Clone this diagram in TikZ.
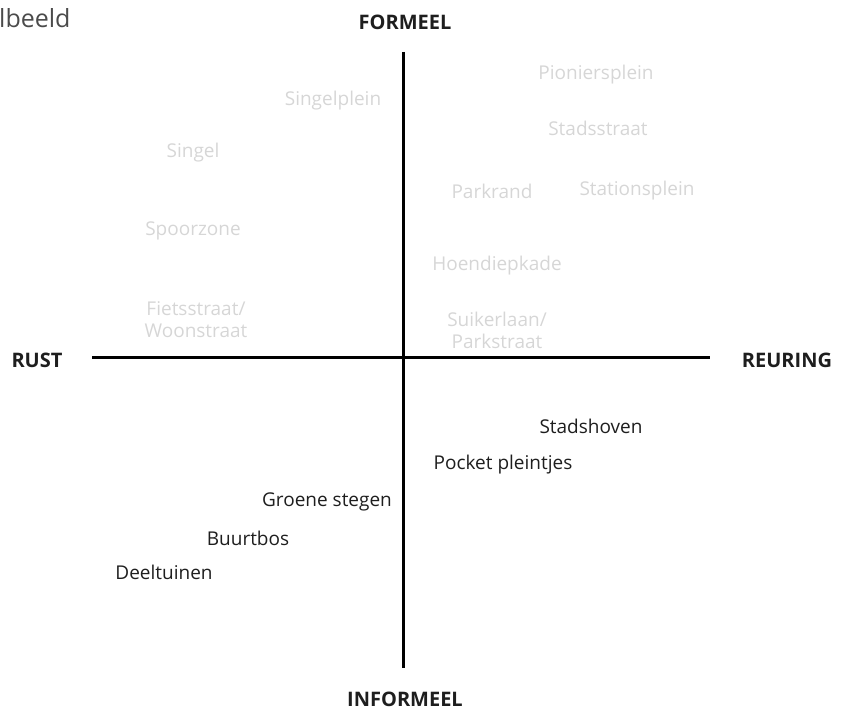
\documentclass[tikz,border=0pt]{standalone}
\usepackage{fontspec}
\setmainfont{Open Sans}
\definecolor{faint}{HTML}{D6D6D6}
\definecolor{ink}{HTML}{1E1E1E}
\begin{document}
\begin{tikzpicture}[x=1pt,y=-1pt,
  axis/.style={line width=3pt,black},
  axlabel/.style={font=\fontsize{20}{24}\selectfont\bfseries,text=ink,inner sep=0pt},
  grey/.style={font=\fontsize{19}{22}\selectfont,text=faint,inner sep=0pt,align=center},
  dark/.style={font=\fontsize{19}{22}\selectfont,text=ink,inner sep=0pt,align=center}]
\useasboundingbox (0,0) rectangle (848,711);
\node[font=\fontsize{25}{28}\selectfont,text=ink!80,inner sep=0pt,anchor=west] (title) at (-1,18) {lbeeld};
\coordinate (top) at (403,52);
\coordinate (bot) at (403,668);
\coordinate (lft) at (92,357);
\coordinate (rgt) at (710,357);
\draw[axis] (top) -- (bot);
\draw[axis] (lft) -- (rgt);
\node[axlabel] (formeel) at (405,22) {FORMEEL};
\node[axlabel] (informeel) at (405,699) {INFORMEEL};
\node[axlabel] (rust) at (37,360) {RUST};
\node[axlabel] (reuring) at (787,360) {REURING};
\node[grey] (singelplein) at (333,101) {Singelplein};
\node[grey] (singel) at (193,153) {Singel};
\node[grey] (spoorzone) at (193,231) {Spoorzone};
\node[grey] (fiets) at (196,320) {Fietsstraat/\\Woonstraat};
\node[grey] (pionier) at (596,75) {Pioniersplein};
\node[grey] (stadsstraat) at (598,128) {Stadsstraat};
\node[grey] (parkrand) at (492,191) {Parkrand};
\node[grey] (station) at (637,191) {Stationsplein};
\node[grey] (hoendiep) at (497,266) {Hoendiepkade};
\node[grey] (suiker) at (497,330) {Suikerlaan/\\Parkstraat};
\node[dark] (stadshoven) at (591,426) {Stadshoven};
\node[dark] (pocket) at (503,465) {Pocket pleintjes};
\node[dark] (groene) at (327,502) {Groene stegen};
\node[dark] (buurtbos) at (248,538) {Buurtbos};
\node[dark] (deeltuinen) at (164,572) {Deeltuinen};
\end{tikzpicture}
\end{document}
